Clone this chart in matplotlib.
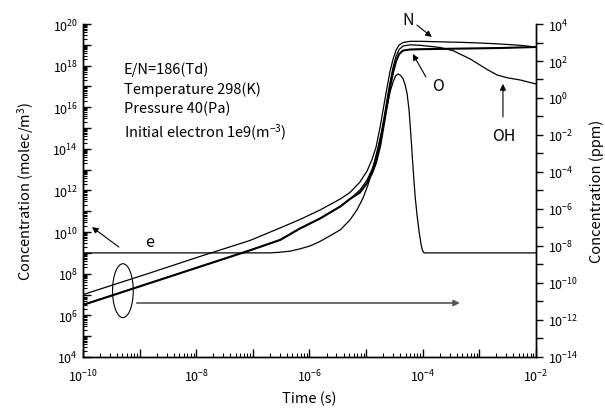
import numpy as np
import matplotlib
matplotlib.use('Agg')
import matplotlib.pyplot as plt
from matplotlib.ticker import LogLocator, FuncFormatter, NullFormatter
from matplotlib.patches import Ellipse

plt.rcParams['font.family'] = ['Noto Sans CJK JP', 'DejaVu Sans']
plt.rcParams['mathtext.fontset'] = 'custom'
plt.rcParams['mathtext.rm'] = 'Noto Sans CJK JP'
plt.rcParams['mathtext.it'] = 'Noto Sans CJK JP'
plt.rcParams['axes.unicode_minus'] = False

# N (ppm, right axis)
t_n = [1e-10, 1.53e-9, 1.17e-8, 8.9e-8, 3.03e-7, 6.8e-7, 1.54e-6, 3.5e-6, 5.2e-6,
       7.8e-6, 1.04e-5, 1.28e-5, 1.50e-5, 1.77e-5, 2.08e-5, 2.35e-5, 2.65e-5,
       3.0e-5, 3.39e-5, 3.83e-5, 4.5e-5, 6.0e-5, 9.0e-5, 2.03e-4, 4.6e-4,
       1.03e-3, 2.33e-3, 5.26e-3, 1e-2]
n_ppm = [2.33e-11, 3.47e-10, 2.71e-9, 1.98e-8, 9.4e-8, 2.70e-7, 8.8e-7, 3.47e-6, 7.8e-6,
         2.88e-5, 1.13e-4, 5.0e-4, 2.24e-3, 0.027, 0.474, 3.9, 28.8,
         128, 394, 733, 1000, 1160, 1160, 1090, 1025,
         940, 830, 706, 570]

# OH (ppm, right axis)
t_oh = [1e-10, 1.53e-9, 1.17e-8, 8.9e-8, 3.03e-7, 6.8e-7, 1.54e-6, 3.5e-6, 5.2e-6,
        7.8e-6, 1.04e-5, 1.28e-5, 1.50e-5, 1.77e-5, 2.08e-5, 2.35e-5, 2.65e-5,
        3.0e-5, 3.39e-5, 3.83e-5, 4.5e-5, 6.0e-5, 9.0e-5, 2.03e-4, 3.44e-4,
        6.9e-4, 1.37e-3, 2.06e-3, 3.1e-3, 5.26e-3, 1e-2]
oh_ppm = [6.46e-12, 9.9e-11, 7.6e-10, 5.8e-9, 2.11e-8, 8.8e-8, 3.06e-7, 1.36e-6, 3.47e-6,
          1.06e-5, 3.7e-5, 1.45e-4, 5.7e-4, 5.4e-3, 0.094, 0.88, 7.3,
          47, 186, 419, 647, 751, 706, 537, 360,
          128, 34.7, 17.5, 12.4, 9.4, 5.7]

# O (ppm, right axis)
t_o = [1e-10, 1.53e-9, 1.17e-8, 8.9e-8, 3.03e-7, 6.8e-7, 1.54e-6, 3.5e-6, 5.2e-6,
       7.8e-6, 1.04e-5, 1.28e-5, 1.50e-5, 1.77e-5, 2.08e-5, 2.35e-5, 2.65e-5,
       3.0e-5, 3.39e-5, 3.83e-5, 4.5e-5, 6.0e-5, 9.0e-5, 4.6e-4, 2.33e-3, 1e-2]
o_ppm = [6.46e-12, 9.9e-11, 7.6e-10, 5.8e-9, 2.11e-8, 8.8e-8, 3.06e-7, 1.36e-6, 3.47e-6,
         7.8e-6, 2.54e-5, 8.8e-5, 3.26e-4, 2.54e-3, 0.0446, 0.419, 3.9,
         25.4, 100, 239, 370, 419, 434, 468, 505, 571]

# electrons (molec/m^3, left axis)
t_e = [1e-10, 2.01e-7, 3.03e-7, 4.54e-7, 6.8e-7, 1.03e-6, 1.54e-6, 2.3e-6, 3.5e-6,
       5.2e-6, 6.9e-6, 8.85e-6, 1.08e-5, 1.33e-5, 1.63e-5, 2.0e-5, 2.35e-5, 2.65e-5,
       3.0e-5, 3.32e-5, 3.67e-5, 4.07e-5, 4.5e-5, 4.89e-5, 5.3e-5, 5.75e-5, 6.24e-5,
       6.8e-5, 7.35e-5, 7.96e-5, 8.63e-5, 9.37e-5, 9.95e-5, 1.06e-4, 1e-2]
e_conc = [1e9, 1e9, 1.08e9, 1.21e9, 1.56e9, 2.17e9, 3.57e9, 6.6e9, 1.28e10,
          3.86e10, 1.17e11, 4.4e11, 1.86e12, 1.36e13, 1.25e14, 1.43e15, 1.17e16, 5.5e16,
          1.66e17, 3.2e17, 4.0e17, 3.4e17, 2.32e17, 1.19e17, 4.4e16, 6.7e15, 3.0e14,
          8.7e12, 4.9e11, 6.0e10, 1.02e10, 2.43e9, 1.25e9, 1e9, 1e9]

info_lines = ['E/N=186(Td)', 'Temperature 298(K)', 'Pressure 40(Pa)',
              'Initial electron 1e9(m$^{-3}$)']


def even_only(v, pos):
    p = int(round(np.log10(v)))
    if p % 2:
        return ''
    return '$10^{%d}$' % p


fig = plt.figure(figsize=(6.05, 4.10), dpi=100)
ax = fig.add_subplot(111)
fig.subplots_adjust(left=0.137, right=0.886, top=0.939, bottom=0.127)
ax2 = ax.twinx()

ax.plot(t_e, e_conc, color='black', lw=0.9)
ax2.plot(t_n, n_ppm, color='black', lw=0.9)
ax2.plot(t_oh, oh_ppm, color='black', lw=0.9)
ax2.plot(t_o, o_ppm, color='black', lw=1.5)

ax.set_xscale('log')
ax.set_yscale('log')
ax2.set_yscale('log')
ax.set_xlim(1e-10, 1e-2)
ax.set_ylim(1e4, 1e20)
ax2.set_ylim(1e-14, 1e4)

for a in (ax, ax2):
    a.spines['top'].set_visible(False)
    for s in a.spines.values():
        s.set_linewidth(1.0)

ax.xaxis.set_major_locator(LogLocator(base=10, numticks=20))
ax.xaxis.set_minor_locator(LogLocator(base=10, subs=np.arange(2, 10), numticks=20))
ax.xaxis.set_major_formatter(FuncFormatter(even_only))
ax.xaxis.set_minor_formatter(NullFormatter())
ax.yaxis.set_major_locator(LogLocator(base=10, numticks=20))
ax.yaxis.set_minor_locator(LogLocator(base=10, subs=np.arange(2, 10), numticks=20))
ax.yaxis.set_major_formatter(FuncFormatter(even_only))
ax.yaxis.set_minor_formatter(NullFormatter())
ax2.yaxis.set_major_locator(LogLocator(base=10, numticks=25))
ax2.yaxis.set_minor_locator(LogLocator(base=10, subs=np.arange(2, 10), numticks=25))
ax2.yaxis.set_major_formatter(FuncFormatter(even_only))
ax2.yaxis.set_minor_formatter(NullFormatter())

ax.tick_params(axis='both', which='major', direction='in', length=6, width=1.0, labelsize=9,
               colors='black')
ax.tick_params(axis='both', which='minor', direction='in', length=3, width=0.8)
ax.tick_params(axis='x', which='both', top=False, bottom=True)
ax.tick_params(axis='y', which='both', right=False, left=True)
ax2.tick_params(axis='y', which='major', direction='out', length=5, width=1.0, labelsize=9)
ax2.tick_params(axis='y', which='minor', length=0)
ax.tick_params(axis='x', pad=8)

ax.set_xlabel('Time (s)', fontsize=10.5, labelpad=4)
ax.set_ylabel('Concentration (molec/m$^{3}$)', fontsize=10.5, labelpad=12)
ax2.set_ylabel('Concentration (ppm)', fontsize=10.5, labelpad=8)

for s, fy in zip(info_lines, [0.865, 0.807, 0.747, 0.675]):
    ax.text(0.0905, fy, s, transform=ax.transAxes, fontsize=10.5, va='center', ha='left')

arrow = dict(arrowstyle='-|>', lw=0.8, color='black', mutation_scale=9, shrinkA=0, shrinkB=0)
ax.annotate('', xy=(0.770, 0.961), xytext=(0.737, 0.997), xycoords='axes fraction',
            arrowprops=arrow, annotation_clip=False)
ax.text(0.717, 1.015, 'N', transform=ax.transAxes, fontsize=11.5, ha='center', va='center')
ax.annotate('', xy=(0.728, 0.910), xytext=(0.757, 0.841), xycoords='axes fraction', arrowprops=arrow)
ax.text(0.783, 0.815, 'O', transform=ax.transAxes, fontsize=11.5, ha='center', va='center')
ax.annotate('', xy=(0.927, 0.820), xytext=(0.927, 0.721), xycoords='axes fraction', arrowprops=arrow)
ax.text(0.929, 0.665, 'OH', transform=ax.transAxes, fontsize=11.5, ha='center', va='center')
ax.annotate('', xy=(0.020, 0.390), xytext=(0.0795, 0.330), xycoords='axes fraction', arrowprops=arrow)
ax.text(0.148, 0.348, 'e', transform=ax.transAxes, fontsize=11.5, ha='center', va='center')

ax.add_patch(Ellipse((0.0883, 0.199), 0.0457, 0.162, transform=ax.transAxes,
                     fill=False, lw=0.8, color='black'))
ax.annotate('', xy=(0.832, 0.162), xytext=(0.119, 0.162), xycoords='axes fraction',
            arrowprops=dict(arrowstyle='-|>', lw=1.2, color='#555555', mutation_scale=9,
                            shrinkA=0, shrinkB=0))

plt.savefig('out.png', dpi=100)
